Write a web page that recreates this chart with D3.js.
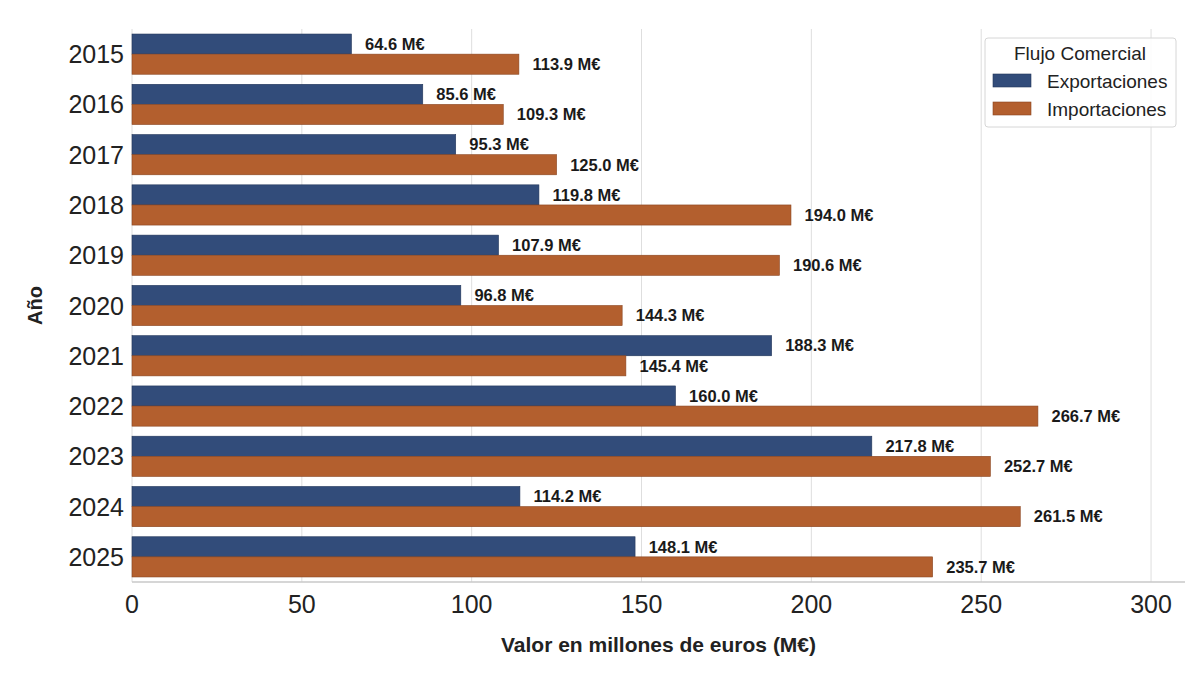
<!DOCTYPE html>
<html>
<head>
<meta charset="utf-8">
<script src="https://cdn.jsdelivr.net/npm/d3@7"></script>
<style>
body { margin: 0; background: #fff; }
text { font-family: "Liberation Sans", Arial, sans-serif; }
</style>
</head>
<body>
<svg id="chart" width="1200" height="675"></svg>
<script>
var years = ["2015","2016","2017","2018","2019","2020","2021","2022","2023","2024","2025"];
var exportaciones = [64.6, 85.6, 95.3, 119.8, 107.9, 96.8, 188.3, 160.0, 217.8, 114.2, 148.1];
var importaciones = [113.9, 109.3, 125.0, 194.0, 190.6, 144.3, 145.4, 266.7, 252.7, 261.5, 235.7];
var seriesNames = ["Exportaciones", "Importaciones"];
var xTicks = [0, 50, 100, 150, 200, 250, 300];

var colors = { 'Exportaciones': '#324c7a', 'Importaciones': '#b35f2e' };
var edges = { 'Exportaciones': '#22365a', 'Importaciones': '#8a4520' };

var margin = {top: 29, right: 15, bottom: 93, left: 132};
var width = 1200 - margin.left - margin.right;
var height = 675 - margin.top - margin.bottom;

var svg = d3.select('#chart');
var g = svg.append('g').attr('transform', `translate(${margin.left}, ${margin.top})`);

var x = d3.scaleLinear().domain([0, 310]).range([0, width]);
var y = d3.scaleBand().domain(years).range([0, height]).paddingInner(0.2).paddingOuter(0.1);
var ySub = d3.scaleBand().domain(seriesNames).range([0, y.bandwidth()]);

// grid
g.selectAll('.grid').data(xTicks).enter().append('line')
	.attr('x1', d => x(d)).attr('x2', d => x(d))
	.attr('y1', 0).attr('y2', height)
	.attr('stroke', '#dedede').attr('stroke-width', 1);

var rows = years.map((yr, i) => ({year: yr, vals: [
	{name: 'Exportaciones', v: exportaciones[i]},
	{name: 'Importaciones', v: importaciones[i]}
]}));

var grp = g.selectAll('.yr').data(rows).enter().append('g')
	.attr('transform', d => `translate(0, ${y(d.year)})`);

grp.selectAll('rect').data(d => d.vals).enter().append('rect')
	.attr('x', 0)
	.attr('y', d => ySub(d.name))
	.attr('width', d => x(d.v))
	.attr('height', ySub.bandwidth())
	.attr('fill', d => colors[d.name])
	.attr('stroke', d => edges[d.name])
	.attr('stroke-width', 0.6);

grp.selectAll('.lbl').data(d => d.vals).enter().append('text')
	.attr('x', d => x(d.v + 4))
	.attr('y', d => ySub(d.name) + ySub.bandwidth() / 2)
	.attr('dy', '0.35em')
	.attr('font-size', 16.5)
	.attr('font-weight', 'bold')
	.attr('fill', '#1a1a1a')
	.text(d => d.v.toFixed(1) + ' M€');

// bottom spine
g.append('line')
	.attr('x1', 0).attr('x2', width)
	.attr('y1', height).attr('y2', height)
	.attr('stroke', '#c8c8c8').attr('stroke-width', 1.5);

// x tick labels
g.selectAll('.xt').data(xTicks).enter().append('text')
	.attr('x', d => x(d))
	.attr('y', height + 31)
	.attr('text-anchor', 'middle')
	.attr('font-size', 25)
	.attr('fill', '#222')
	.text(d => d);

// y tick labels
g.selectAll('.yt').data(years).enter().append('text')
	.attr('x', -8)
	.attr('y', d => y(d) + y.bandwidth() / 2)
	.attr('dy', '0.36em')
	.attr('text-anchor', 'end')
	.attr('font-size', 25)
	.attr('fill', '#222')
	.text(d => d);

// axis titles
g.append('text')
	.attr('x', width / 2)
	.attr('y', height + 70)
	.attr('text-anchor', 'middle')
	.attr('font-size', 21)
	.attr('font-weight', 'bold')
	.attr('fill', '#222')
	.text('Valor en millones de euros (M€)');

g.append('text')
	.attr('transform', `translate(-90, ${height / 2}) rotate(-90)`)
	.attr('text-anchor', 'middle')
	.attr('font-size', 20)
	.attr('font-weight', 'bold')
	.attr('fill', '#222')
	.text('Año');

// legend
var leg = svg.append('g').attr('transform', 'translate(985, 38)');
leg.append('rect')
	.attr('width', 191).attr('height', 89)
	.attr('rx', 3)
	.attr('fill', '#fff').attr('fill-opacity', 0.85)
	.attr('stroke', '#d6d6d6');
leg.append('text')
	.attr('x', 95).attr('y', 22)
	.attr('text-anchor', 'middle')
	.attr('font-size', 19)
	.attr('fill', '#222')
	.text('Flujo Comercial');
seriesNames.forEach(function(s, i){
	leg.append('rect')
		.attr('x', 8).attr('y', 36 + i * 28)
		.attr('width', 38).attr('height', 13)
		.attr('fill', colors[s])
		.attr('stroke', edges[s]).attr('stroke-width', 0.6);
	leg.append('text')
		.attr('x', 62).attr('y', 43 + i * 28)
		.attr('dy', '0.35em')
		.attr('font-size', 19)
		.attr('fill', '#222')
		.text(s);
});
</script>
</body>
</html>
